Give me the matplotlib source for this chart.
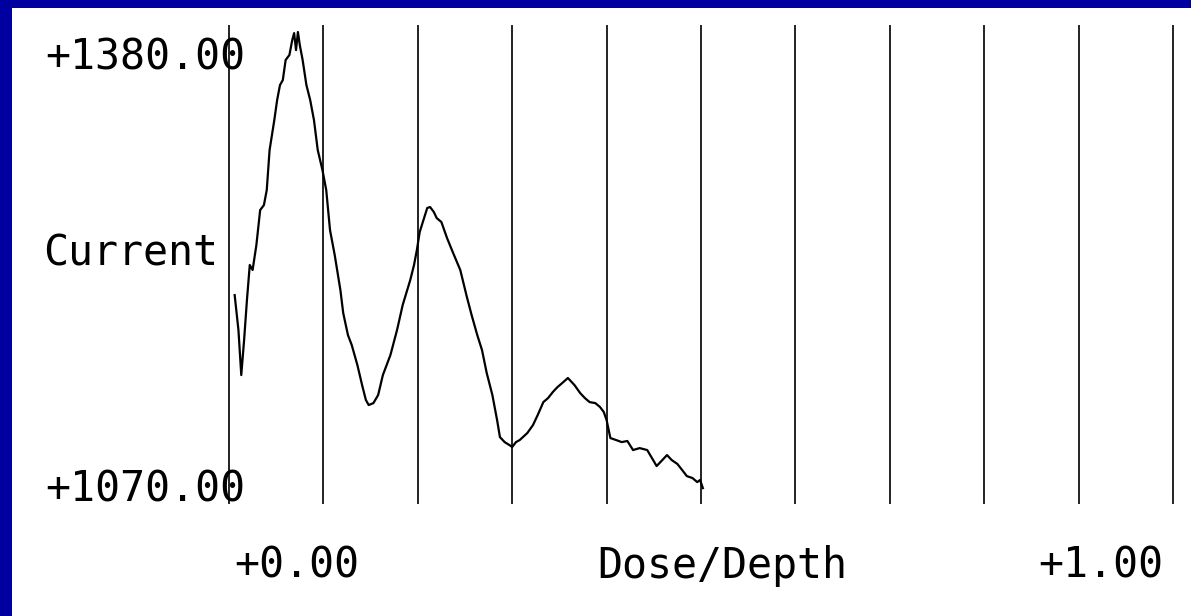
import matplotlib.pyplot as plt
from matplotlib.patches import Rectangle

# dose/depth (0..1) vs current
dose = [0.006, 0.010, 0.013, 0.016, 0.019, 0.022, 0.025, 0.029, 0.033, 0.037,
        0.040, 0.043, 0.048, 0.051, 0.054, 0.057, 0.060, 0.064, 0.067, 0.069,
        0.071, 0.073, 0.075, 0.078, 0.082, 0.086, 0.090, 0.094, 0.099, 0.103,
        0.107, 0.112, 0.118, 0.121, 0.126, 0.130, 0.136, 0.141, 0.145, 0.148,
        0.153, 0.158, 0.163, 0.171, 0.178, 0.184, 0.192, 0.196, 0.199, 0.202,
        0.206, 0.210, 0.213, 0.217, 0.220, 0.225, 0.231, 0.237, 0.245, 0.252,
        0.257, 0.263, 0.268, 0.273, 0.279, 0.284, 0.287, 0.292, 0.297, 0.300,
        0.304, 0.308, 0.316, 0.322, 0.327, 0.333, 0.338, 0.343, 0.348, 0.353,
        0.359, 0.366, 0.372, 0.377, 0.382, 0.388, 0.393, 0.397, 0.400, 0.404,
        0.410, 0.416, 0.422, 0.428, 0.435, 0.443, 0.448, 0.453, 0.459, 0.464,
        0.469, 0.475, 0.480, 0.485, 0.491, 0.496, 0.499, 0.502]
current = [1209.9, 1184.8, 1152.5, 1177.6, 1206.3, 1231.5, 1227.9, 1245.8, 1270.9, 1274.5,
           1285.3, 1314.0, 1335.5, 1349.9, 1360.6, 1364.2, 1378.6, 1382.2, 1392.9, 1397.9,
           1385.7, 1398.7, 1389.3, 1378.6, 1360.6, 1349.9, 1335.5, 1314.0, 1299.6, 1285.3,
           1256.6, 1238.6, 1213.5, 1197.0, 1181.2, 1174.1, 1159.7, 1145.3, 1134.6, 1131.0,
           1132.4, 1138.2, 1152.5, 1166.9, 1184.8, 1202.8, 1220.7, 1231.5, 1242.2, 1255.1,
           1263.8, 1272.4, 1273.1, 1269.5, 1265.2, 1262.3, 1250.8, 1240.8, 1227.9, 1208.5,
           1195.6, 1181.2, 1170.5, 1154.0, 1138.2, 1120.2, 1108.0, 1104.4, 1102.3, 1100.9,
           1104.4, 1105.9, 1110.9, 1116.6, 1123.8, 1133.1, 1136.0, 1140.3, 1143.9, 1146.8,
           1150.4, 1145.3, 1139.6, 1136.0, 1133.1, 1132.4, 1129.6, 1126.0, 1120.2, 1107.3,
           1105.9, 1104.4, 1105.2, 1098.7, 1100.1, 1098.7, 1093.0, 1087.2, 1091.5, 1095.1,
           1091.5, 1088.7, 1084.4, 1080.0, 1078.6, 1075.7, 1077.2, 1071.4]

grid_x = [0.0, 0.1, 0.2, 0.3, 0.4, 0.5, 0.6, 0.7, 0.8, 0.9, 1.0]
y_labels = ["+1380.00", "Current", "+1070.00"]
x_labels = ["+0.00", "Dose/Depth", "+1.00"]

W, H = 1191, 616
fig = plt.figure(figsize=(W / 100, H / 100), dpi=100)
fig.patch.set_facecolor("#0000a0")
fig.add_artist(Rectangle((12 / W, 0), 1, 1 - 8 / H, transform=fig.transFigure,
                         facecolor="white", edgecolor="none", zorder=0))

ax = fig.add_axes([229 / W, 1 - 503 / H, 944 / W, 477 / H])
ax.set_facecolor("none")
for x in grid_x:
    ax.axvline(x, color="#222222", lw=1.4, clip_on=False)
ax.plot(dose, current, color="black", lw=1.6, clip_on=False)
ax.set_xlim(0, 1)
ax.set_ylim(1060.7, 1403.0)
ax.axis("off")

font = dict(family="DejaVu Sans Mono", fontsize=30, color="black",
            ha="center", va="center")
fig.text(145 / W, 1 - 58 / H, y_labels[0], **font)
fig.text(131 / W, 1 - 253 / H, y_labels[1], **font)
fig.text(145 / W, 1 - 490 / H, y_labels[2], **font)
fig.text(297 / W, 1 - 566 / H, x_labels[0], **font)
fig.text(722 / W, 1 - 566 / H, x_labels[1], **font)
fig.text(1101 / W, 1 - 566 / H, x_labels[2], **font)

fig.savefig("out.png", dpi=100)
